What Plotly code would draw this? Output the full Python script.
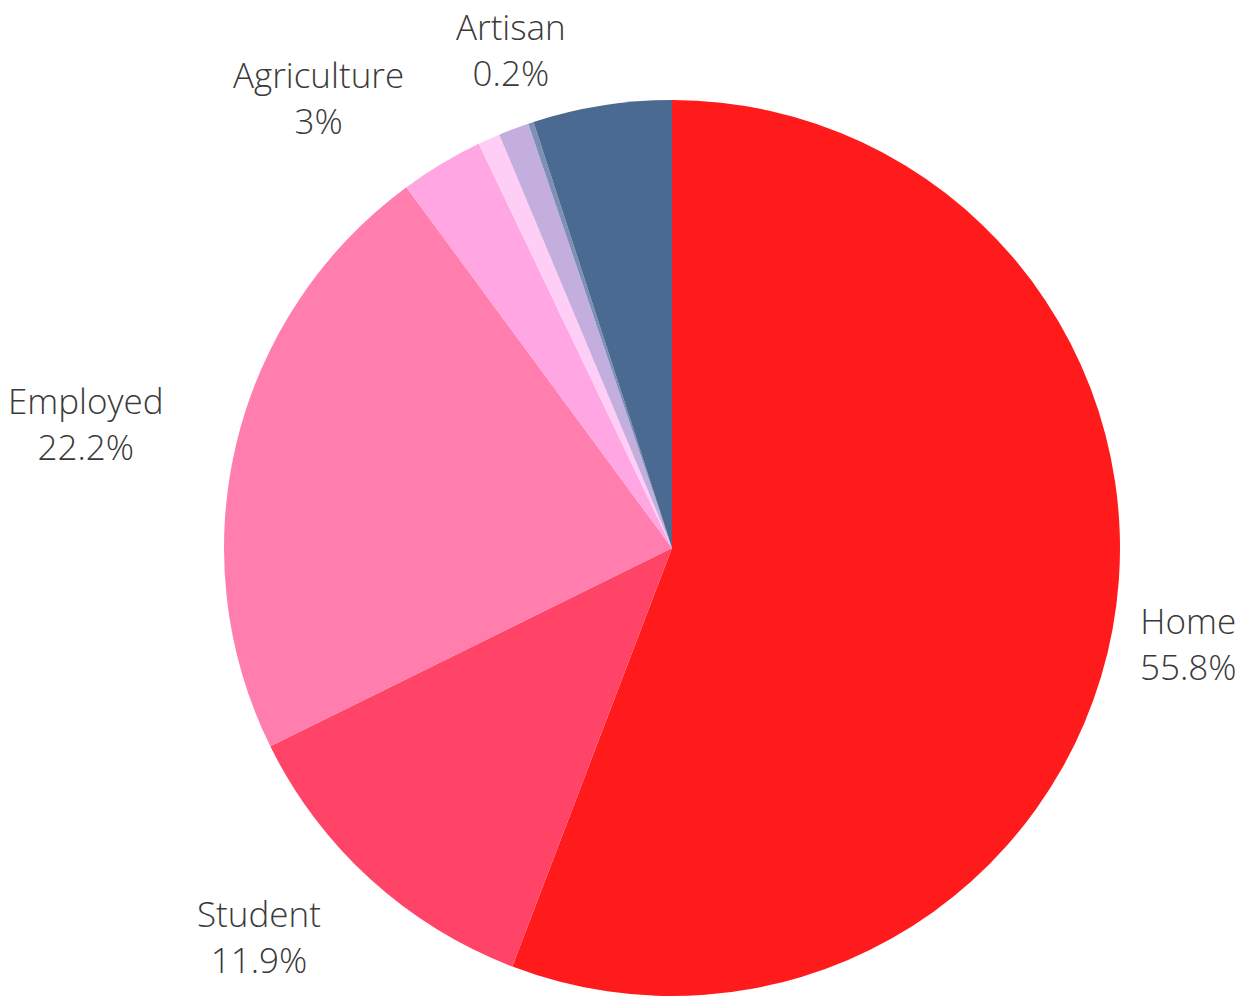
import math
import plotly.graph_objects as go

labels = ["Home", "Student", "Employed", "Agriculture", "Unemployed", "Retired", "Artisan", "Other"]
values = [55.8, 11.9, 22.2, 3.0, 0.8, 1.1, 0.2, 5.0]
shown = [True, True, True, True, False, False, True, False]
colors = ["#FF1A1C", "#FF4468", "#FF7EAE", "#FFA6E3", "#FFCEF6", "#C4AEDD", "#7F90B6", "#4B6A91"]
anchors = ["center", "right", "right", "right", "center", "center", "center", "center"]
xshifts = [0, 4, 4, 4, 0, 0, 4, 0]

W, H = 1244, 997
CX, CY, R = 672, 548, 448   # pie centre / radius in pixels
LABEL_R = R + 77            # radius where labels are anchored

fig = go.Figure(go.Pie(
    labels=labels,
    values=values,
    sort=False,
    direction="clockwise",
    rotation=0,
    marker=dict(colors=colors, line=dict(width=0)),
    textinfo="none",
    showlegend=False,
    hoverinfo="label+percent",
    domain=dict(x=[(CX - R) / W, (CX + R) / W],
                y=[1 - (CY + R) / H, 1 - (CY - R) / H]),
))

total = sum(values)
cum = 0.0
for lab, v, s, anc, xs in zip(labels, values, shown, anchors, xshifts):
    mid = (cum + v / 2) / total * 2 * math.pi
    cum += v
    if not s:
        continue
    px = CX + LABEL_R * math.sin(mid)
    py = CY - LABEL_R * math.cos(mid)
    fig.add_annotation(
        x=px / W, y=1 - py / H, xref="paper", yref="paper",
        text=f"{lab}<br>{v:g}%",
        showarrow=False, xanchor=anc, yanchor="middle", align="center",
        xshift=xs,
        font=dict(family="Open Sans", size=35, color="#3a3a3a", weight=300),
    )

fig.update_layout(
    width=W, height=H,
    margin=dict(l=0, r=0, t=0, b=0),
    paper_bgcolor="white",
    plot_bgcolor="white",
)
fig.write_html(
    "out.html",
    config={"displayModeBar": False},
    post_script="document.body.style.margin='0';document.body.style.overflow='hidden';",
)
